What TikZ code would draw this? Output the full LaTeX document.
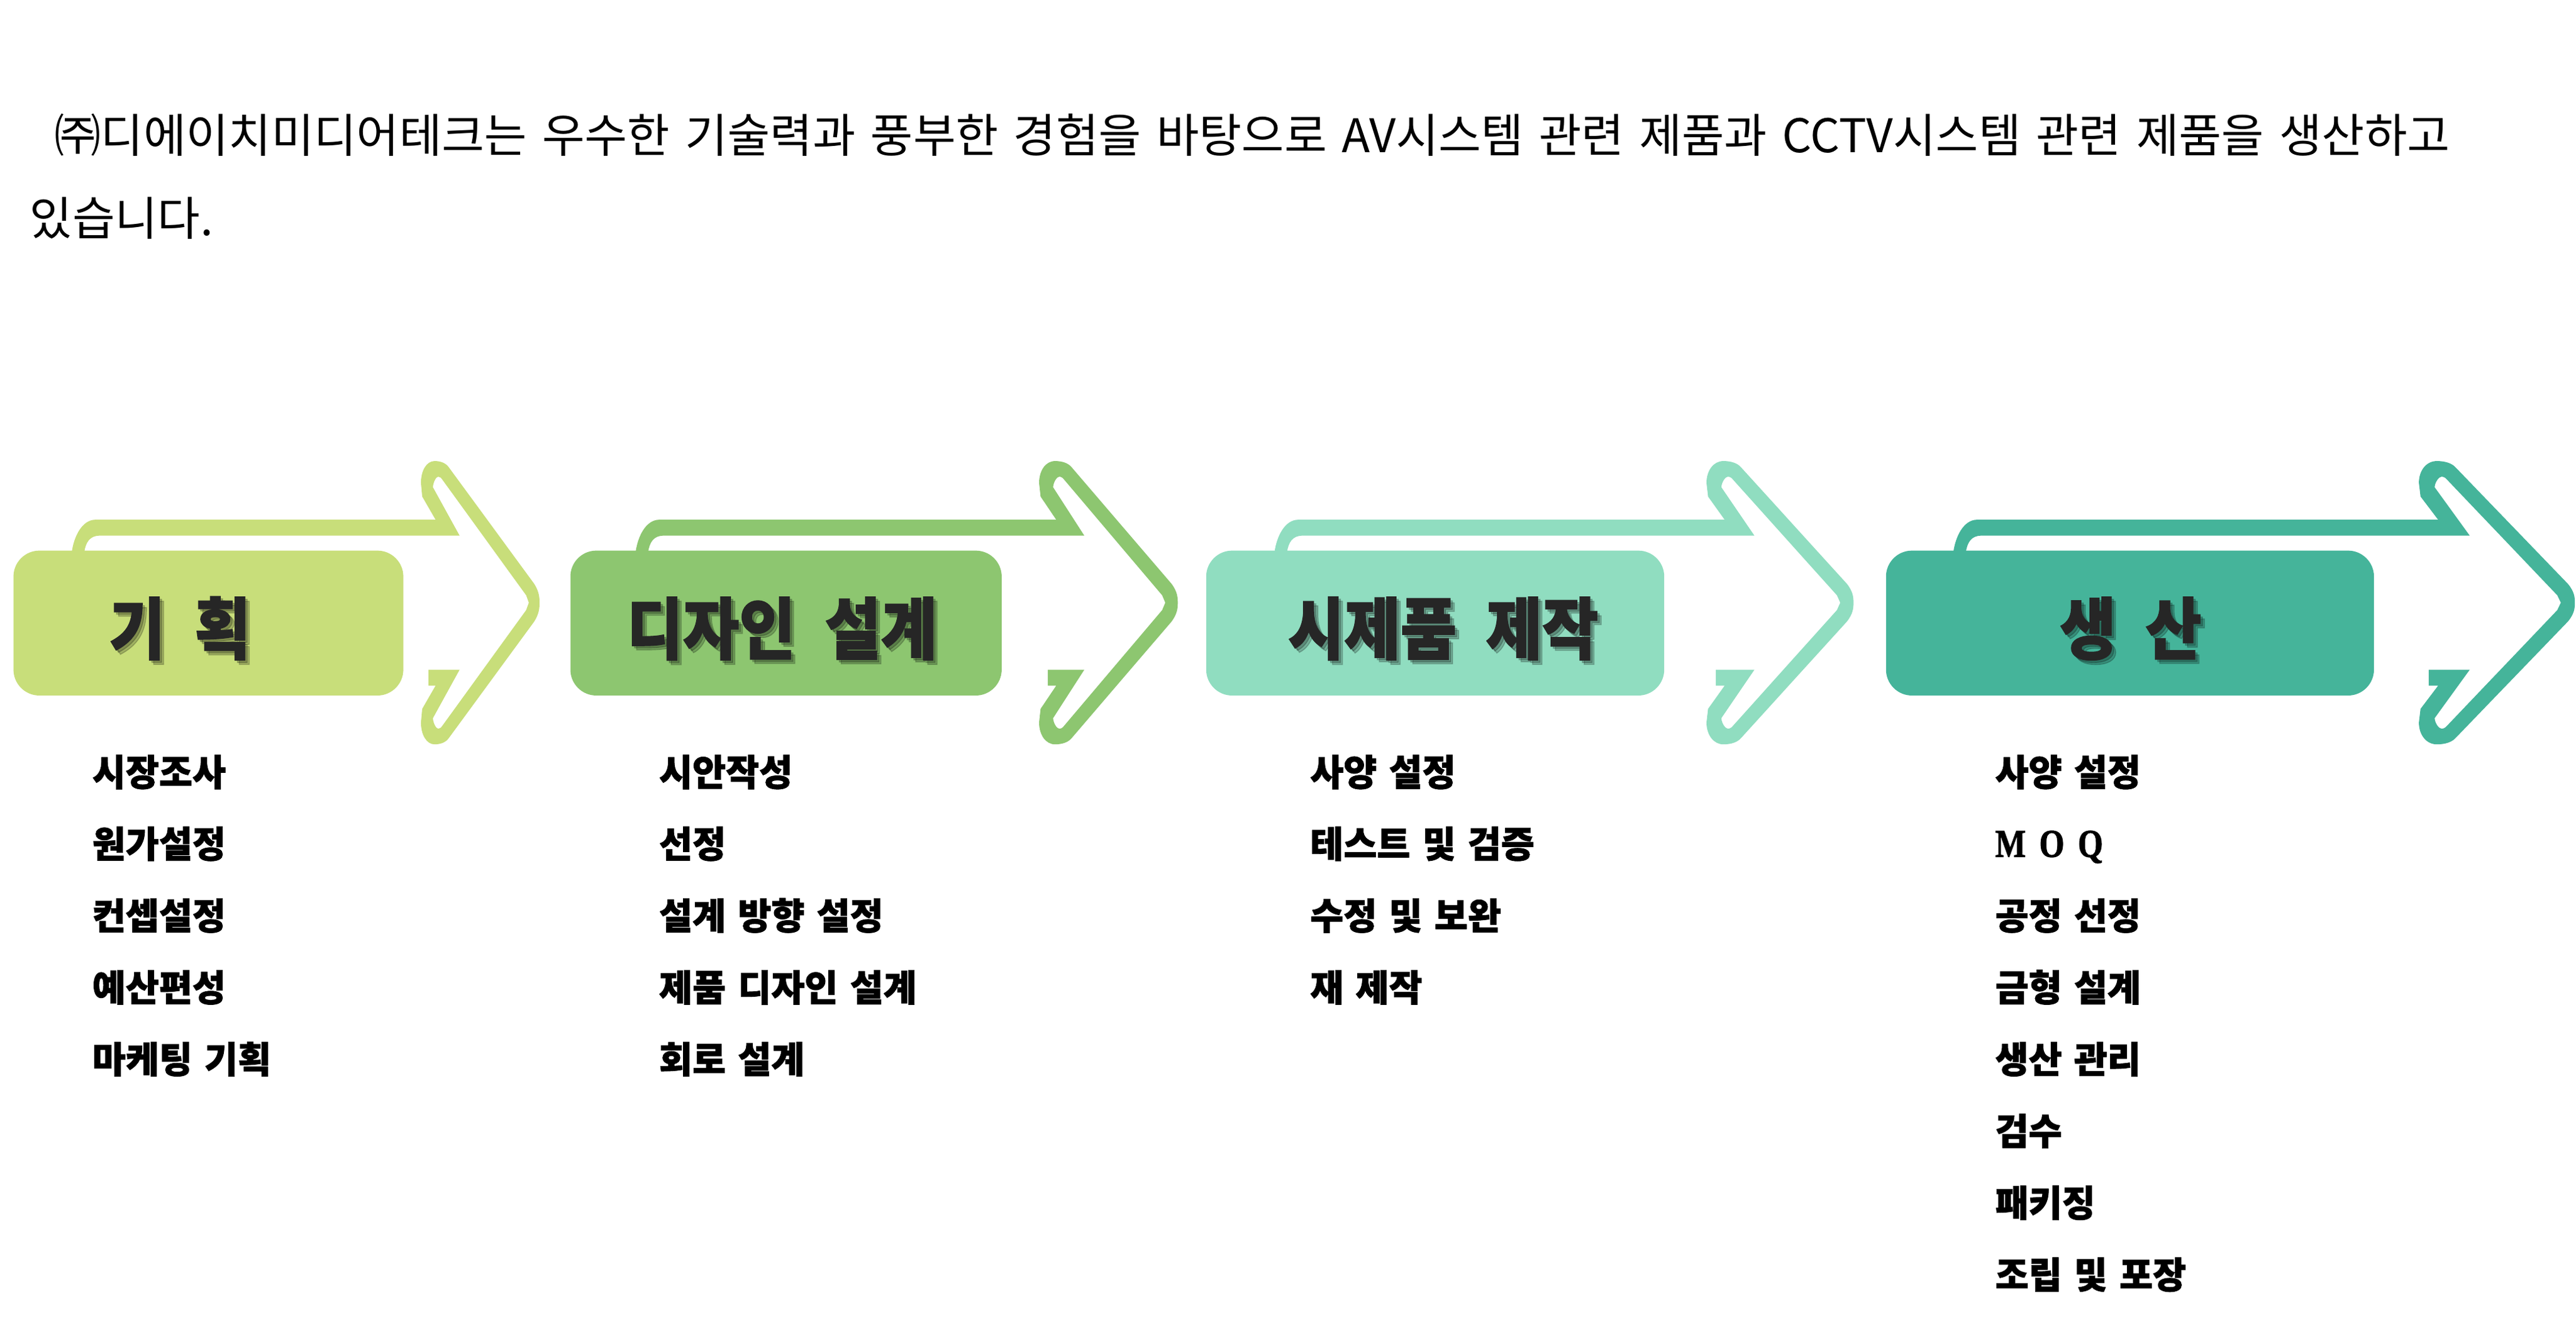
\documentclass[tikz,border=0pt]{standalone}
\usepackage{fontspec}
\newfontfamily\hdrfont{Noto Sans CJK KR}[WordSpace=0.65]
\newfontfamily\ttlfont{Noto Sans CJK KR}[WordSpace=2.1,BoldFeatures={FakeBold=1.5}]
\newfontfamily\itmfont{Noto Sans CJK KR}[WordSpace=1.45,BoldFeatures={FakeBold=1.4}]
\newfontfamily\moqfont{Liberation Serif}[BoldFeatures={FakeBold=1.6}]
\definecolor{cA}{HTML}{C8DE7A}
\definecolor{cB}{HTML}{8DC670}
\definecolor{cC}{HTML}{90DDC0}
\definecolor{cD}{HTML}{45B49A}
\definecolor{ttlc}{HTML}{262626}
% #1 tip x, #2 horizontal scale of head, #3 band outer x at box top, #4 colour
\newcommand\chevshape[4]{%
\fill[#4] ({#3},336) .. controls ({#3+1.2},327) and ({#3+6},316.3) .. ({#3+14.5},316.3)
 -- ({#1-74*#2},316.3)
 -- ({#1-83.5*#2},302.2)
 -- ({#1-84.4*#2},293.9)
 .. controls ({#1-84.4*#2},286.5) and ({#1-80.5*#2},280.6) .. ({#1-74.7*#2},280.6)
 .. controls ({#1-70*#2},280.6) and ({#1-66.5*#2},282) .. ({#1-64.5*#2},284.5)
 -- ({#1-3.8*#2},355.3)
 .. controls ({#1-0.3*#2},360) and ({#1},363.5) .. ({#1},366.8)
 .. controls ({#1},370.1) and ({#1-0.3*#2},373.6) .. ({#1-3.8*#2},378.3)
 -- ({#1-64.5*#2},449.1)
 .. controls ({#1-66.5*#2},451.6) and ({#1-70*#2},453) .. ({#1-74.7*#2},453)
 .. controls ({#1-80.5*#2},453) and ({#1-84.4*#2},447.1) .. ({#1-84.4*#2},439.7)
 -- ({#1-83.5*#2},431.4)
 -- ({#1-74*#2},417.3)
 -- ({#1-79.1*#2},417.3)
 -- ({#1-79.1*#2},407.6)
 -- ({#1-56.9*#2},407.6)
 -- ({#1-75.9*#2},437.1)
 .. controls ({#1-75.6*#2},440.5) and ({#1-73.5*#2},443.5) .. ({#1-72.1*#2},443.5)
 .. controls ({#1-70.8*#2},443.5) and ({#1-69.8*#2},442.5) .. ({#1-69.6*#2},442.2)
 -- ({#1-9.5*#2},371.3)
 -- ({#1-7.6*#2},366.8)
 -- ({#1-9.5*#2},362.3)
 -- ({#1-69.6*#2},291.4)
 .. controls ({#1-69.8*#2},291.1) and ({#1-70.8*#2},290.1) .. ({#1-72.1*#2},290.1)
 .. controls ({#1-73.5*#2},290.1) and ({#1-75.6*#2},293.1) .. ({#1-75.9*#2},296.5)
 -- ({#1-56.9*#2},326)
 -- ({#3+17},326)
 .. controls ({#3+11},326) and ({#3+8.5},330) .. ({#3+7.6},336)
 -- cycle;}
\tikzset{
  boxst/.style={rounded corners=15.8pt, inner sep=0pt, minimum height=88.2pt},
  hdrst/.style={anchor=base west, inner sep=0pt, font=\hdrfont\fontsize{28.2}{32}\selectfont},
  ttlst/.style={anchor=base, inner sep=0pt, text=ttlc, font=\ttlfont\bfseries\fontsize{41}{45}\selectfont},
  ttlsh/.style={anchor=base, inner sep=0pt, text=black, opacity=0.2, font=\ttlfont\bfseries\fontsize{41}{45}\selectfont},
  itmst/.style={anchor=base west, inner sep=0pt, text=black, font=\itmfont\bfseries\fontsize{22.3}{26}\selectfont},
}
\newcommand\ttlx[1]{\scalebox{0.907}[1]{#1}}
\newcommand\itx[1]{\scalebox{0.99}[1]{#1}}
\newcommand\titlenode[4]{% name, x, baseline, text
  \node[ttlsh] (#1s1) at ({#2+1.4},{#3+1.4}) {\ttlx{#4}};
  \node[ttlsh] (#1s2) at ({#2+2.6},{#3+2.6}) {\ttlx{#4}};
  \node[ttlst] (#1) at (#2,#3) {\ttlx{#4}};}
\begin{document}
\begin{tikzpicture}[x=1pt,y=-1pt]
\useasboundingbox (0,0) rectangle (1568,803);
\fill[white] (0,0) rectangle (1568,803);
% header
\node[hdrst] (hdr1) at (33,92.8) {㈜디에이치미디어테크는 우수한 기술력과 풍부한 경험을 바탕으로 AV시스템 관련 제품과 CCTV시스템 관련 제품을 생산하고};
\node[hdrst] (hdr2) at (18,143.4) {있습니다.};
% chevrons
\chevshape{328.4}{0.855}{43.7}{cA}
\chevshape{716.9}{1}{386.9}{cB}
\chevshape{1128.2}{1.06}{775.8}{cC}
\chevshape{1567.3}{1.125}{1189}{cD}
% boxes
\node[boxst, fill=cA, minimum width=237.3pt] (b1) at (126.85,379.2) {};
\node[boxst, fill=cB, minimum width=262.5pt] (b2) at (478.45,379.2) {};
\node[boxst, fill=cC, minimum width=278.8pt] (b3) at (873.6,379.2) {};
\node[boxst, fill=cD, minimum width=297pt] (b4) at (1296.5,379.2) {};
% titles
\titlenode{t1}{109.5}{397.9}{기 획}
\titlenode{t2}{476}{397.9}{디자인 설계}
\titlenode{t3}{878.5}{397.9}{시제품 제작}
\titlenode{t4}{1297}{397.9}{생 산}
% items column 1
\node[itmst] (a1) at (56,478.2) {\itx{시장조사}};
\node[itmst] (a2) at (56,521.9) {\itx{원가설정}};
\node[itmst] (a3) at (56,565.6) {\itx{컨셉설정}};
\node[itmst] (a4) at (56,609.3) {\itx{예산편성}};
\node[itmst] (a5) at (56,653.0) {\itx{마케팅 기획}};
% column 2
\node[itmst] (b21) at (401,478.2) {\itx{시안작성}};
\node[itmst] (b22) at (401,521.9) {\itx{선정}};
\node[itmst] (b23) at (401,565.6) {\itx{설계 방향 설정}};
\node[itmst] (b24) at (401,609.3) {\itx{제품 디자인 설계}};
\node[itmst] (b25) at (401,653.0) {\itx{회로 설계}};
% column 3
\node[itmst] (c1) at (797.3,478.2) {\itx{사양 설정}};
\node[itmst] (c2) at (797.3,521.9) {\itx{테스트 및 검증}};
\node[itmst] (c3) at (797.3,565.6) {\itx{수정 및 보완}};
\node[itmst] (c4) at (797.3,609.3) {\itx{재 제작}};
% column 4
\node[itmst] (d1) at (1214.3,478.2) {\itx{사양 설정}};
\node[anchor=base west, inner sep=0pt, font=\moqfont\bfseries\fontsize{24}{27}\selectfont] (d2) at (1214.3,521.5) {\scalebox{0.82}[1]{M\hspace{10pt}O\hspace{10pt}Q}};
\node[itmst] (d3) at (1214.3,565.6) {\itx{공정 선정}};
\node[itmst] (d4) at (1214.3,609.3) {\itx{금형 설계}};
\node[itmst] (d5) at (1214.3,653.0) {\itx{생산 관리}};
\node[itmst] (d6) at (1214.3,696.7) {\itx{검수}};
\node[itmst] (d7) at (1214.3,740.4) {\itx{패키징}};
\node[itmst] (d8) at (1214.3,784.1) {\itx{조립 및 포장}};
\end{tikzpicture}
\end{document}
